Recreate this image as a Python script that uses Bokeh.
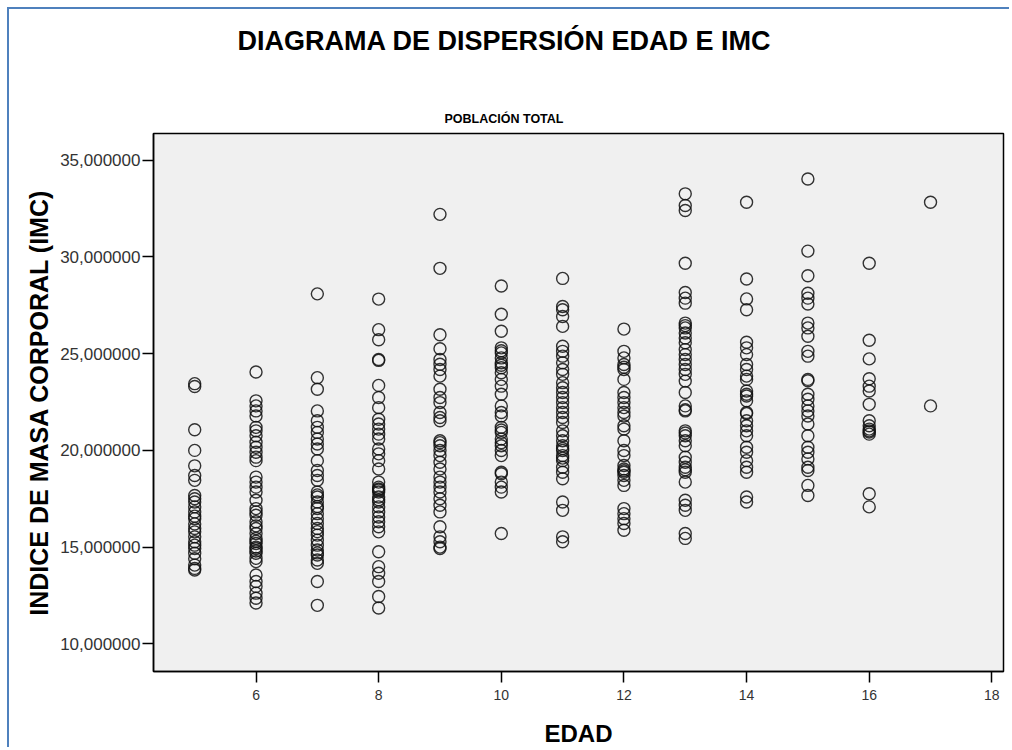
from bokeh.plotting import figure
from bokeh.models import Range1d, FixedTicker, CustomJSTickFormatter, Title
from bokeh.embed import file_html
from bokeh.resources import INLINE

# ---- data ----
imc_5 = [23.45, 23.3, 21.07, 20.0, 19.2, 18.7, 18.45, 17.67, 17.5, 17.33, 17.08, 16.82, 16.6, 16.47,
         16.2, 15.96, 15.79, 15.53, 15.28, 15.1, 14.93, 14.68, 14.4, 14.07, 13.9, 13.82]
imc_6 = [24.05, 22.56, 22.3, 22.04, 21.78, 21.19, 21.01, 20.76, 20.42, 20.16, 19.9, 19.65, 19.47,
         18.62, 18.36, 18.1, 17.85, 17.42, 16.99, 16.82, 16.65, 16.31, 16.1, 15.96, 15.7, 15.45,
         15.3, 15.19, 15.0, 14.93, 14.8, 14.68, 14.42, 14.25, 13.56, 13.22, 12.97, 12.62, 12.36, 12.11]
imc_7 = [28.09, 23.76, 23.16, 22.04, 21.53, 21.19, 20.93, 20.59, 20.33, 20.07, 19.47, 18.96, 18.7,
         18.45, 17.85, 17.7, 17.59, 17.33, 17.1, 16.99, 16.73, 16.47, 16.22, 15.96, 15.8, 15.62,
         15.36, 15.1, 14.85, 14.7, 14.59, 14.33, 14.16, 13.22, 11.99]
imc_8 = [27.82, 26.24, 25.72, 24.7, 24.65, 23.36, 22.73, 22.21, 21.61, 21.36, 21.1, 20.84, 20.59,
         20.07, 19.82, 19.47, 19.04, 18.36, 18.1, 18.0, 17.95, 17.85, 17.59, 17.45, 17.33, 17.08,
         16.82, 16.56, 16.31, 16.05, 15.79, 14.76, 13.99, 13.65, 13.22, 12.45, 11.85]
imc_9 = [32.2, 29.41, 25.98, 25.25, 24.7, 24.45, 24.18, 23.84, 23.16, 22.73, 22.47, 21.96, 21.7,
         21.53, 20.5, 20.4, 20.24, 19.99, 19.73, 19.39, 19.04, 18.62, 18.36, 18.1, 17.85, 17.5,
         17.16, 16.82, 16.05, 15.53, 15.28, 15.0, 14.93]
imc_10 = [28.5, 27.04, 26.16, 25.3, 25.15, 25.04, 24.78, 24.53, 24.4, 24.27, 24.01, 23.67, 23.32,
          22.9, 22.3, 21.96, 21.78, 21.19, 21.05, 20.93, 20.59, 20.4, 20.24, 19.99, 19.73, 18.87,
          18.79, 18.36, 18.1, 17.85, 15.7]
imc_11 = [28.89, 27.44, 27.27, 26.92, 26.41, 25.38, 25.12, 24.87, 24.53, 24.18, 23.93, 23.5, 23.24,
          22.99, 22.73, 22.47, 22.21, 21.96, 21.7, 21.44, 21.01, 20.76, 20.5, 20.24, 20.1, 19.99,
          19.73, 19.6, 19.47, 19.13, 18.87, 18.53, 17.33, 16.9, 15.53, 15.28]
imc_12 = [26.27, 25.12, 24.78, 24.44, 24.3, 24.18, 23.67, 22.99, 22.73, 22.47, 22.21, 21.96, 21.78,
          21.27, 21.1, 20.5, 19.99, 19.73, 19.22, 19.04, 18.95, 18.87, 18.7, 18.45, 18.19, 16.99,
          16.73, 16.47, 16.22, 15.87]
imc_13 = [33.26, 32.66, 32.4, 29.67, 28.16, 27.87, 27.61, 26.58, 26.45, 26.33, 26.07, 25.81, 25.56,
          25.21, 24.95, 24.7, 24.44, 24.18, 23.93, 23.58, 22.99, 22.3, 22.1, 22.04, 21.01, 20.9,
          20.76, 20.5, 20.24, 19.65, 19.39, 19.13, 19.0, 18.87, 18.36, 17.42, 17.16, 16.9, 15.7, 15.45]
imc_14 = [32.83, 28.86, 27.83, 27.27, 25.59, 25.3, 24.95, 24.44, 24.18, 23.84, 23.67, 23.07, 22.9,
          22.81, 22.56, 21.96, 21.9, 21.53, 21.27, 21.01, 20.76, 20.16, 19.9, 19.47, 19.13, 18.87,
          17.59, 17.33]
imc_15 = [34.03, 30.3, 29.03, 28.12, 27.87, 27.57, 26.58, 26.33, 25.9, 25.12, 24.87, 23.67, 23.6,
          22.9, 22.64, 22.3, 22.04, 21.78, 21.36, 20.76, 20.16, 19.9, 19.56, 19.13, 18.96, 18.19, 17.67]
imc_16 = [29.67, 25.69, 24.73, 23.7, 23.32, 23.07, 22.38, 21.53, 21.27, 21.1, 21.01, 20.95, 20.84,
          17.76, 17.08]
imc_17 = [32.83, 22.3]

edades = [5, 6, 7, 8, 9, 10, 11, 12, 13, 14, 15, 16, 17]
imc_por_edad = [imc_5, imc_6, imc_7, imc_8, imc_9, imc_10, imc_11, imc_12, imc_13,
                imc_14, imc_15, imc_16, imc_17]

x_ticks = [6, 8, 10, 12, 14, 16, 18]
y_ticks = [10, 15, 20, 25, 30, 35]

titulo = "DIAGRAMA DE DISPERSIÓN EDAD E IMC"
subtitulo = "POBLACIÓN TOTAL"
x_label = "EDAD"
y_label = "INDICE DE MASA CORPORAL (IMC)"

xs, ys = [], []
for e, vals in zip(edades, imc_por_edad):
    xs.extend([e] * len(vals))
    ys.extend(vals)

SANS = "Liberation Sans"

p = figure(width=1002, height=740, output_backend="svg", toolbar_location=None,
           x_range=Range1d(4.328, 18.19), y_range=Range1d(8.57, 36.38),
           min_border_left=144, min_border_right=8, min_border_top=124, min_border_bottom=76,
           background_fill_color="#F0F0F0", border_fill_color="white",
           outline_line_color="black", outline_line_width=1.5,
           styles={"margin-left": "7px", "margin-top": "7px",
                   "border-top": "2px solid #4F81BD", "border-left": "2px solid #4F81BD"})

p.xgrid.visible = False
p.ygrid.visible = False

p.scatter(xs, ys, marker="circle", size=12, fill_color=None,
          line_color="#111111", line_width=1.4, line_alpha=0.85)

for ax in (p.xaxis[0], p.yaxis[0]):
    ax.axis_line_color = "black"
    ax.axis_line_width = 1.5
    ax.major_tick_line_color = "black"
    ax.major_tick_line_width = 1.5
    ax.major_tick_out = 11
    ax.major_tick_in = 0
    ax.minor_tick_line_color = None
    ax.major_label_text_color = "#333333"
    ax.axis_label_text_color = "black"
    ax.axis_label_text_font_style = "bold"

p.xaxis.ticker = FixedTicker(ticks=x_ticks)
p.yaxis.ticker = FixedTicker(ticks=y_ticks)
p.yaxis.formatter = CustomJSTickFormatter(code="return tick.toFixed(6).replace('.', ',');")

p.xaxis.major_label_text_font = SANS
p.xaxis.major_label_text_font_size = "14px"
p.xaxis.major_label_standoff = 7
p.yaxis.major_label_text_font = SANS
p.yaxis.major_label_text_font_size = "17px"
p.yaxis.major_label_standoff = 2

p.xaxis.axis_label = x_label
p.xaxis.axis_label_text_font = SANS
p.xaxis.axis_label_text_font_size = "24px"
p.xaxis.axis_label_standoff = 17
p.yaxis.axis_label = y_label
p.yaxis.axis_label_text_font = SANS
p.yaxis.axis_label_text_font_size = "25px"
p.yaxis.axis_label_standoff = 4

# main title (outermost)
p.title.text = titulo
p.title.align = "left"
p.title.offset = 84
p.title.text_font = SANS
p.title.text_font_size = "27px"
p.title.text_font_style = "bold"
p.title.text_color = "black"
p.title.standoff = 10

# subtitle (closest to the frame) and an empty spacer between the two titles
p.add_layout(Title(text=subtitulo, align="left", offset=291, text_font=SANS,
                   text_font_size="12.5px", text_font_style="bold", text_color="black",
                   standoff=15), "above")
p.add_layout(Title(text=" ", align="left", text_font=SANS, text_font_size="10px",
                   standoff=29), "above")

open("out.html", "w").write(file_html(p, INLINE))
